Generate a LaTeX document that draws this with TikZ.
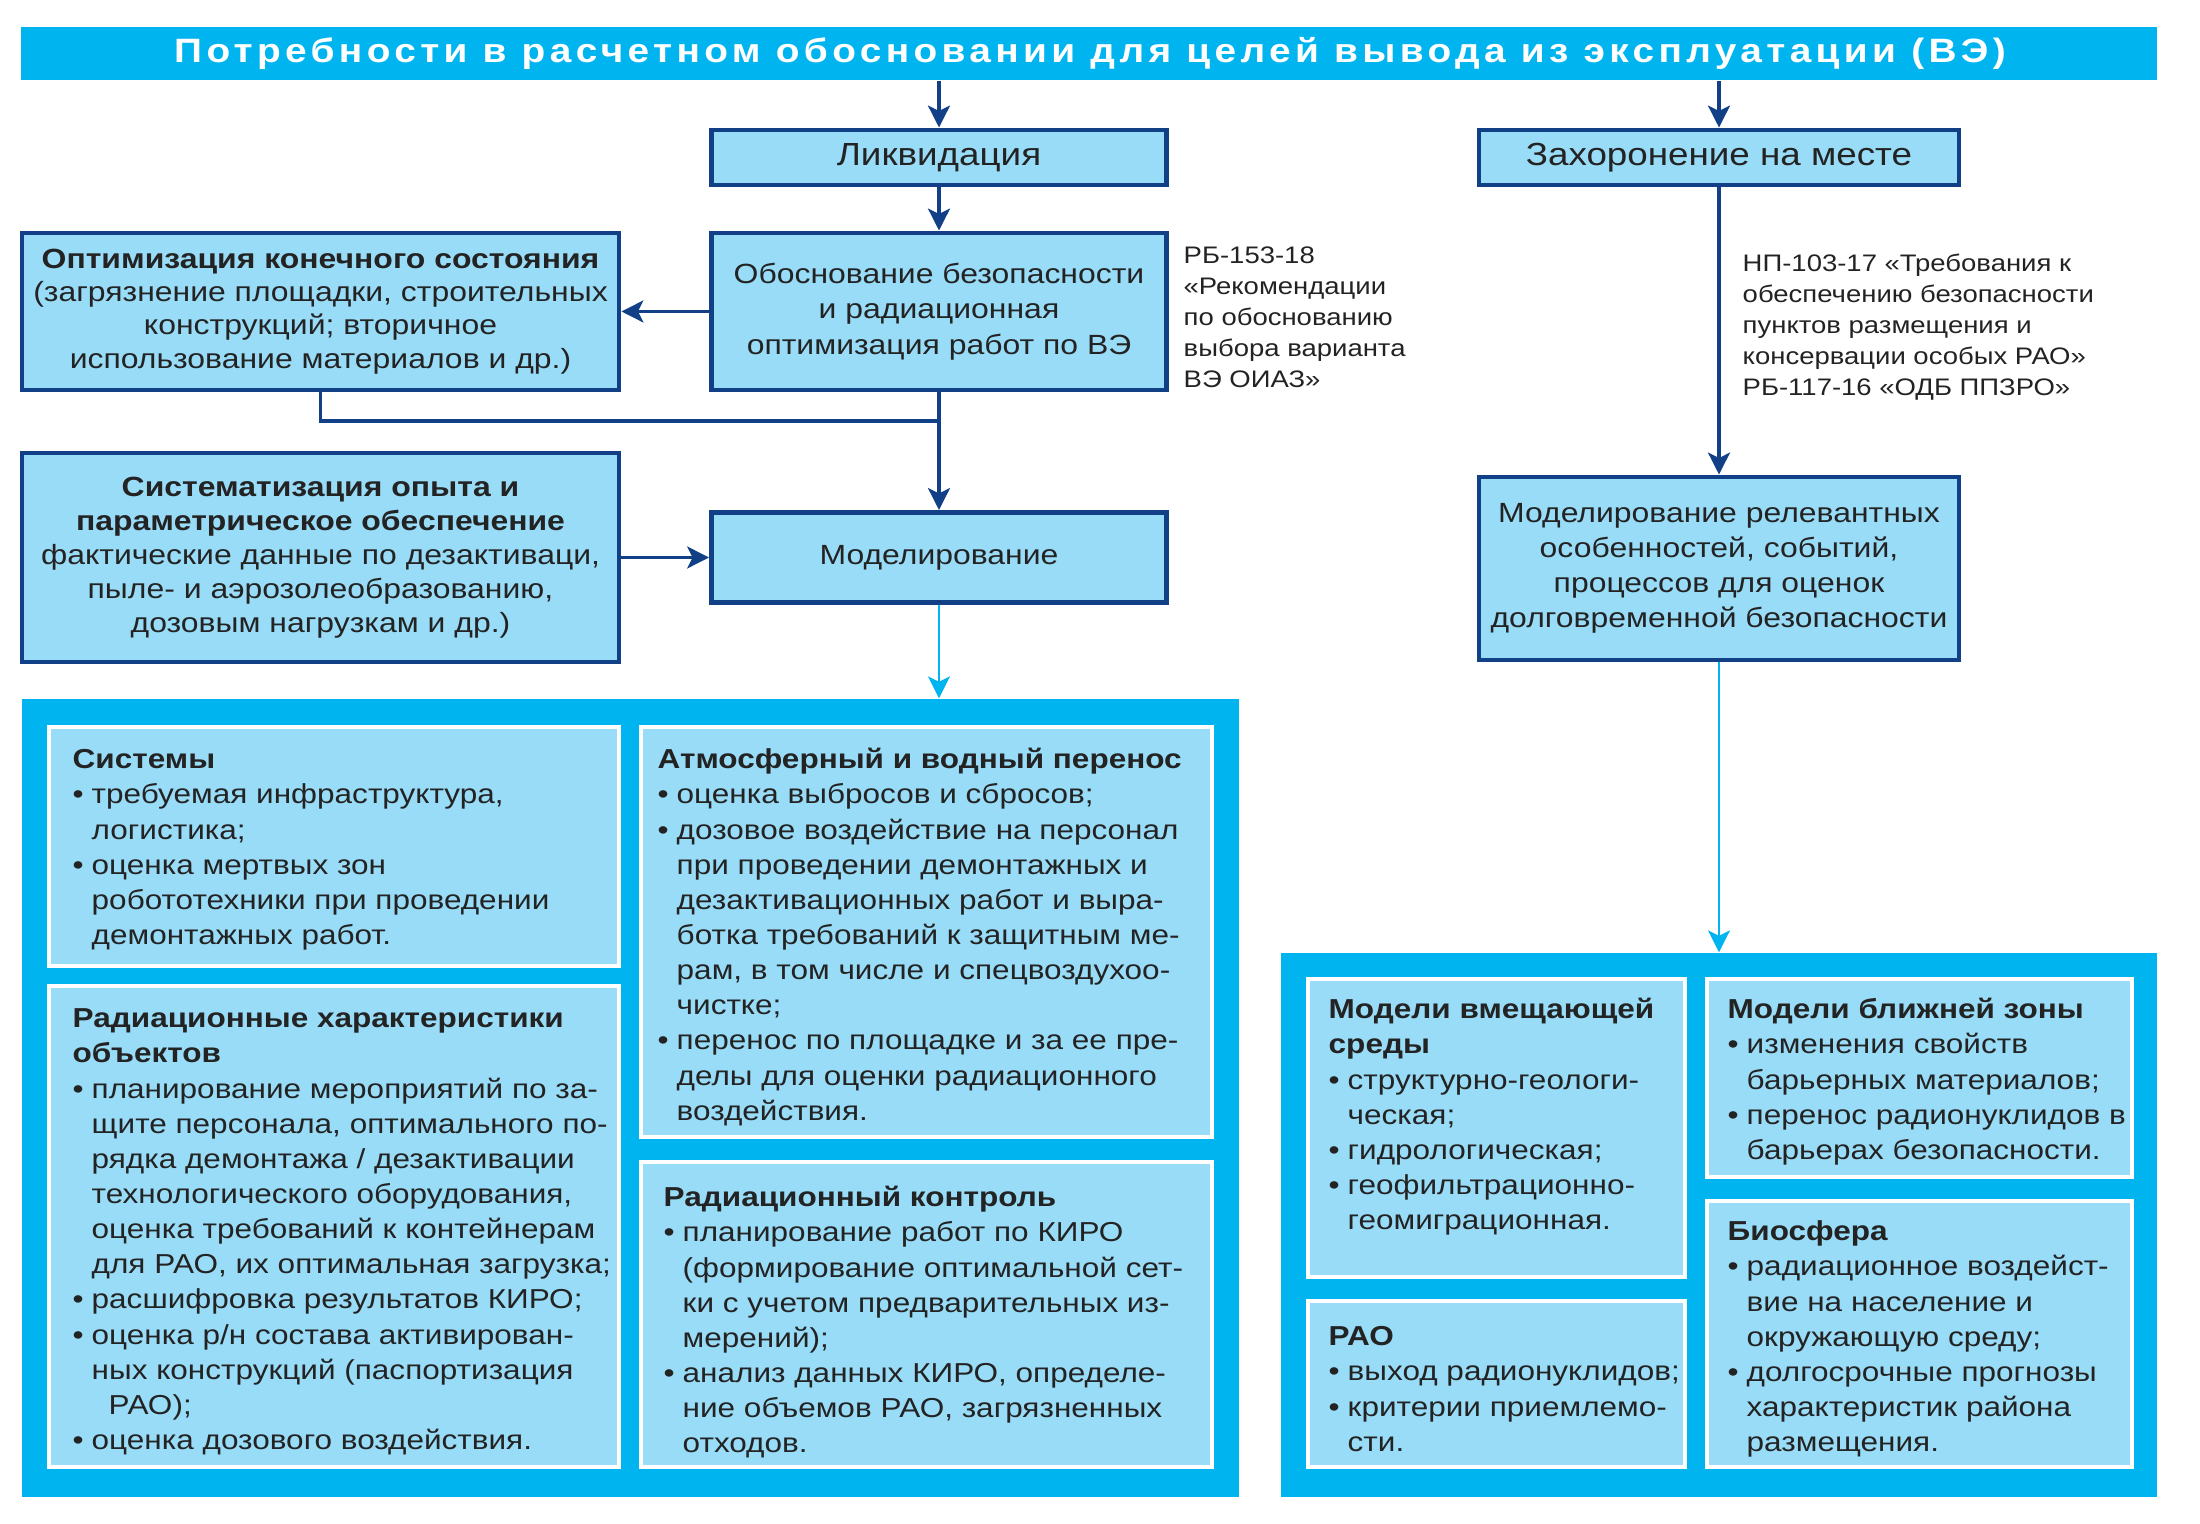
\documentclass[tikz,border=0pt]{standalone}
\usepackage{fontspec}
\setmainfont{Liberation Sans}[FakeStretch=1.15]
\newfontfamily\titlefont{Liberation Sans}[FakeStretch=1.15,LetterSpace=13]
\usetikzlibrary{arrows.meta}

\definecolor{vecyan}{RGB}{0,181,239}
\definecolor{vefill}{RGB}{153,220,248}
\definecolor{venavy}{RGB}{18,64,135}
\definecolor{vetext}{RGB}{35,35,35}

\newlength\px
\setlength\px{0.1mm}
\newcommand\bul{\makebox[19\px][l]{\textbullet}}
\newcommand\ind{\hspace*{19\px}}
\newcommand\hd[1]{\rule{0pt}{8pt}\textbf{#1}}
\newcommand\ntop{\rule{0pt}{6pt}}

\begin{document}
\begin{tikzpicture}[x=0.1mm,y=0.1mm,
  box/.style={draw=venavy,line width=1.4pt,fill=vefill,inner sep=0pt,align=center,
    text=vetext,font=\fontsize{7.9}{10.1}\selectfont},
  panel/.style={fill=vecyan,inner sep=0pt},
  cell/.style={draw=white,line width=1.1pt,fill=vefill,inner sep=0pt},
  celltext/.style={anchor=north west,inner sep=0pt,align=left,text=vetext,
    font=\fontsize{7.8}{10}\selectfont},
  note/.style={anchor=north west,inner sep=0pt,align=left,text=vetext,
    font=\fontsize{6.8}{8.8}\selectfont},
  link/.style={venavy,line width=1.1pt},
  arr/.style={link,-{Stealth[length=6.2pt,width=6.2pt,inset=1.5pt]}},
  carr/.style={vecyan,line width=0.8pt,-{Stealth[length=6.2pt,width=6.2pt,inset=1.5pt]}}]
\useasboundingbox (0,0) rectangle (2200,-1524);

% title bar
\node[panel,minimum width=2136\px,minimum height=53\px] (banner) at (1089,-53.5) {};
\node[text=white,font=\fontsize{9.6}{10}\titlefont\bfseries] (title) at (1090,-53.5)
  {Потребности в расчетном обосновании для целей вывода из эксплуатации (ВЭ)};

% left branch
\node[box,minimum width=455\px,minimum height=55\px,font=\fontsize{9.1}{10}\selectfont] (liq) at (939,-157.5) {Ликвидация};
\node[box,minimum width=455\px,minimum height=157\px] (obo) at (939,-311.5)
  {Обоснование безопасности\\и радиационная\\оптимизация работ по ВЭ};
\node[box,minimum width=597\px,minimum height=157\px,font=\fontsize{7.9}{9.5}\selectfont] (opt) at (320.5,-311.5)
  {\textbf{Оптимизация конечного состояния}\\(загрязнение площадки, строительных\\конструкций; вторичное\\использование материалов и др.)};
\node[box,minimum width=597\px,minimum height=209\px,font=\fontsize{7.9}{9.7}\selectfont] (exp) at (320.5,-557.5)
  {\textbf{Систематизация опыта и}\\\textbf{параметрическое обеспечение}\\фактические данные по дезактиваци,\\пыле- и аэрозолеобразованию,\\дозовым нагрузкам и др.)};
\node[box,minimum width=455\px,minimum height=90\px] (model) at (939,-557.5) {Моделирование};
\node[note] (n153) at (1183,-242)
  {\ntop РБ-153-18\\«Рекомендации\\по обоснованию\\выбора варианта\\ВЭ ОИАЗ»};

% right branch
\node[box,minimum width=480\px,minimum height=55\px,font=\fontsize{9.1}{10}\selectfont] (zah) at (1719,-157.5) {Захоронение на месте};
\node[box,minimum width=480\px,minimum height=183\px,font=\fontsize{7.9}{10}\selectfont] (mrel) at (1719,-568.5)
  {Моделирование релевантных\\особенностей, событий,\\процессов для оценок\\долговременной безопасности};
\node[note] (n103) at (1742,-250)
  {\ntop НП-103-17 «Требования к\\обеспечению безопасности\\пунктов размещения и\\консервации особых РАО»\\РБ-117-16 «ОДБ ППЗРО»};

% connectors
\coordinate (join) at (939,-421);
\draw[arr] (liq |- banner.south) -- (liq.north);
\draw[arr] (zah |- banner.south) -- (zah.north);
\draw[arr] (liq) -- (obo);
\draw[arr] (obo) -- (opt);
\draw[link] (opt.south) |- (join);
\draw[arr] (obo) -- (model);
\draw[arr] (exp) -- (model);
\draw[arr] (zah) -- (mrel);

% left panel
\node[panel,minimum width=1217\px,minimum height=798\px] (lpanel) at (630.5,-1098) {};
\node[cell,minimum width=570\px,minimum height=239\px] (csys) at (334,-846.5) {};
\node[cell,minimum width=570\px,minimum height=481\px] (crad) at (334,-1226.5) {};
\node[cell,minimum width=571\px,minimum height=410\px] (catm) at (926.5,-932) {};
\node[cell,minimum width=571\px,minimum height=305\px] (cctl) at (926.5,-1314.5) {};
\node[celltext] (tsys) at (72,-740)
  {\hd{Системы}\\
   \bul требуемая инфраструктура,\\
   \ind логистика;\\
   \bul оценка мертвых зон\\
   \ind робототехники при проведении\\
   \ind демонтажных работ.};
\node[celltext] (trad) at (72,-999)
  {\hd{Радиационные характеристики}\\
   \textbf{объектов}\\
   \bul планирование мероприятий по за-\\
   \ind щите персонала, оптимального по-\\
   \ind рядка демонтажа / дезактивации\\
   \ind технологического оборудования,\\
   \ind оценка требований к контейнерам\\
   \ind для РАО, их оптимальная загрузка;\\
   \bul расшифровка результатов КИРО;\\
   \bul оценка р/н состава активирован-\\
   \ind ных конструкций (паспортизация\\
   \hspace*{36\px}РАО);\\
   \bul оценка дозового воздействия.};
\node[celltext] (tatm) at (657,-740)
  {\hd{Атмосферный и водный перенос}\\
   \bul оценка выбросов и сбросов;\\
   \bul дозовое воздействие на персонал\\
   \ind при проведении демонтажных и\\
   \ind дезактивационных работ и выра-\\
   \ind ботка требований к защитным ме-\\
   \ind рам, в том числе и спецвоздухоо-\\
   \ind чистке;\\
   \bul перенос по площадке и за ее пре-\\
   \ind делы для оценки радиационного\\
   \ind воздействия.};
\node[celltext] (tctl) at (663,-1178)
  {\hd{Радиационный контроль}\\
   \bul планирование работ по КИРО\\
   \ind (формирование оптимальной сет-\\
   \ind ки с учетом предварительных из-\\
   \ind мерений);\\
   \bul анализ данных КИРО, определе-\\
   \ind ние объемов РАО, загрязненных\\
   \ind отходов.};

% right panel
\node[panel,minimum width=876\px,minimum height=544\px] (rpanel) at (1719,-1225) {};
\node[cell,minimum width=377\px,minimum height=298\px] (cgeo) at (1496.5,-1128) {};
\node[cell,minimum width=425\px,minimum height=198\px] (cnear) at (1919.5,-1078) {};
\node[cell,minimum width=377\px,minimum height=166\px] (crao) at (1496.5,-1384) {};
\node[cell,minimum width=425\px,minimum height=266\px] (cbio) at (1919.5,-1334) {};
\node[celltext] (tgeo) at (1328,-990)
  {\hd{Модели вмещающей}\\
   \textbf{среды}\\
   \bul структурно-геологи-\\
   \ind ческая;\\
   \bul гидрологическая;\\
   \bul геофильтрационно-\\
   \ind геомиграционная.};
\node[celltext] (tnear) at (1727,-990)
  {\hd{Модели ближней зоны}\\
   \bul изменения свойств\\
   \ind барьерных материалов;\\
   \bul перенос радионуклидов в\\
   \ind барьерах безопасности.};
\node[celltext] (trao) at (1328,-1317)
  {\hd{РАО}\\
   \bul выход радионуклидов;\\
   \bul критерии приемлемо-\\
   \ind сти.};
\node[celltext] (tbio) at (1727,-1212)
  {\hd{Биосфера}\\
   \bul радиационное воздейст-\\
   \ind вие на население и\\
   \ind окружающую среду;\\
   \bul долгосрочные прогнозы\\
   \ind характеристик района\\
   \ind размещения.};

% modelling output
\draw[carr] (model.south) -- (model.south |- lpanel.north);
\draw[carr] (mrel.south) -- (mrel.south |- rpanel.north);
\end{tikzpicture}
\end{document}
